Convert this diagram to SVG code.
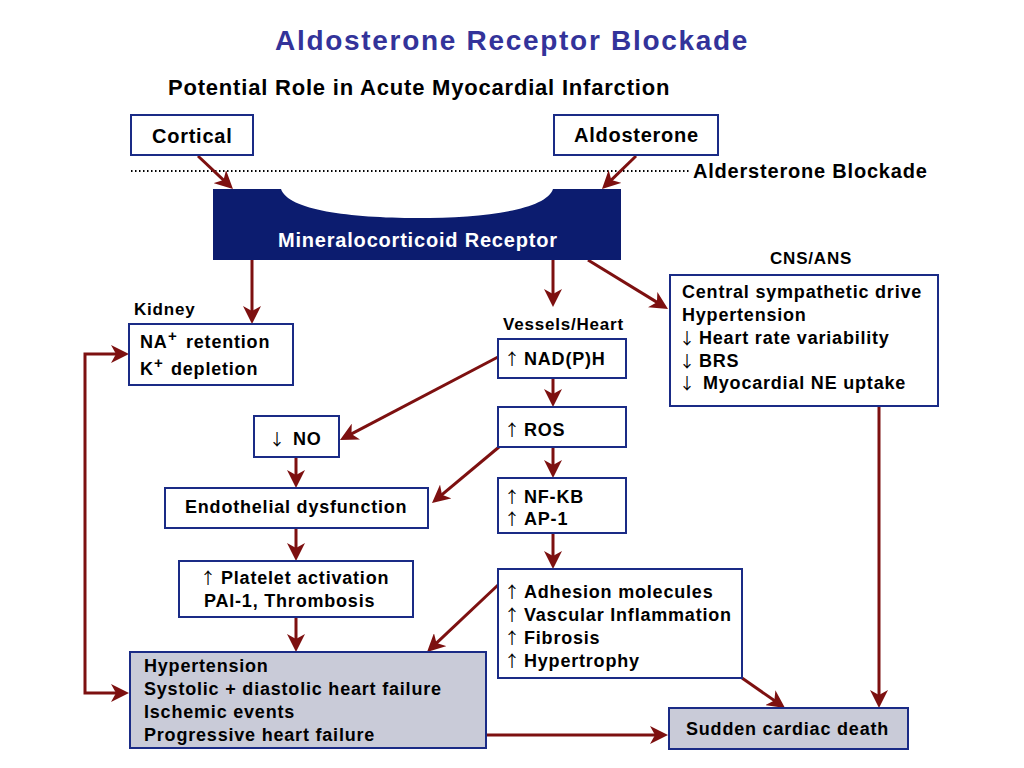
<svg xmlns="http://www.w3.org/2000/svg" width="1024" height="768" viewBox="0 0 1024 768">
<style>
.box{fill:#fff;stroke:#1a2b86;stroke-width:2}
.gbox{fill:#c9cbd8;stroke:#1a2b86;stroke-width:2}
text{font-family:"Liberation Sans",Arial,Helvetica,sans-serif;font-weight:bold;fill:#000}
.t{font-size:18px;letter-spacing:0.8px}
.lb{font-size:17px;letter-spacing:0.8px}
.big{font-size:20px;letter-spacing:0.75px}
.ar{font-family:"Noto Sans CJK SC","DejaVu Sans",sans-serif;font-weight:normal;letter-spacing:0;font-size:16px}
.sup{font-size:15px}
.conn{fill:none;stroke:#7d1010;stroke-width:3;marker-end:url(#ah)}
</style>
<defs>
<marker id="ah" viewBox="0 0 18 18" markerWidth="18" markerHeight="18" refX="12" refY="9" orient="auto-start-reverse" markerUnits="userSpaceOnUse">
<path d="M0,0 L18,9 L0,18 L5,9 Z" fill="#7d1010"/>
</marker>
</defs>
<rect width="1024" height="768" fill="#fff"/>
<text x="275" y="50" style="font-size:28px;letter-spacing:1.7px;fill:#33339a">Aldosterone Receptor Blockade</text>
<text x="168" y="95" style="font-size:22px;letter-spacing:0.8px">Potential Role in Acute Myocardial Infarction</text>
<line x1="131" y1="171" x2="690" y2="171" stroke="#000" stroke-width="2" stroke-dasharray="1.5 2.5"/>
<text x="693" y="178" style="font-size:20px;letter-spacing:0.8px">Aldersterone Blockade</text>
<g id="connectors">
<path class="conn" d="M198,156 L228.6,184.9"/>
<path class="conn" d="M636,156 L606.3,184.8"/>
<path class="conn" d="M252,260 V318"/>
<path class="conn" d="M553,260 V301"/>
<path class="conn" d="M588,260 L662.9,305.9"/>
<path class="conn" d="M498,357 L345.3,437.2"/>
<path class="conn" d="M553,378 V401"/>
<path class="conn" d="M499,447 L436.6,499.2"/>
<path class="conn" d="M553,447 V472"/>
<path class="conn" d="M296,457 V482"/>
<path class="conn" d="M296,528 V555"/>
<path class="conn" d="M296,617 V646"/>
<path class="conn" d="M553,533 V563"/>
<path class="conn" d="M498,585 L431.4,647.9"/>
<path class="conn" d="M742,678 L780.1,704.6"/>
<path class="conn" d="M879,406 V702"/>
<path class="conn" d="M486,735 H662"/>
<path class="conn" d="M123,693 H85 V354 H123" style="marker-start:url(#ah)"/>
</g>
<g id="cortical">
<rect class="box" x="131" y="115" width="122" height="40"/>
<text class="big" x="152" y="143">Cortical</text>
</g>
<g id="aldosterone">
<rect class="box" x="554" y="115" width="164" height="40"/>
<text class="big" x="574" y="142">Aldosterone</text>
</g>
<g id="mr">
<path d="M213,189 H281 C288,210 350,218 417,218 C484,218 546,210 553,189 H621 V260 H213 Z" fill="#0c1c6f"/>
<text x="278" y="247" style="font-size:20px;letter-spacing:0.8px;fill:#fff">Mineralocorticoid Receptor</text>
</g>
<g id="kidney">
<text class="lb" x="134" y="315">Kidney</text>
<rect class="box" x="129" y="324" width="164" height="61"/>
<text class="t" y="348"><tspan x="140">NA</tspan><tspan class="sup" x="168" dy="-7">+</tspan><tspan x="186" dy="7">retention</tspan></text>
<text class="t" y="375"><tspan x="140">K</tspan><tspan class="sup" x="154" dy="-7">+</tspan><tspan x="171" dy="7">depletion</tspan></text>
</g>
<g id="no">
<rect class="box" x="254" y="416" width="85" height="41"/>
<text class="t" y="445"><tspan class="ar" x="269">↓</tspan><tspan x="293">NO</tspan></text>
</g>
<g id="endothelial">
<rect class="box" x="165" y="488" width="263" height="40"/>
<text class="t" x="185" y="513">Endothelial dysfunction</text>
</g>
<g id="platelet">
<rect class="box" x="179" y="561" width="234" height="56"/>
<text class="t" y="584"><tspan class="ar" x="200">↑</tspan><tspan x="221">Platelet activation</tspan></text>
<text class="t" x="204" y="607">PAI-1, Thrombosis</text>
</g>
<g id="outcomes">
<rect class="gbox" x="130" y="652" width="356" height="96"/>
<text class="t" x="144" y="672">Hypertension</text>
<text class="t" x="144" y="695">Systolic + diastolic heart failure</text>
<text class="t" x="144" y="718">Ischemic events</text>
<text class="t" x="144" y="741">Progressive heart failure</text>
</g>
<g id="vessels">
<text class="lb" x="503" y="330">Vessels/Heart</text>
<rect class="box" x="498" y="339" width="128" height="39"/>
<text class="t" y="365"><tspan class="ar" x="504">↑</tspan><tspan x="524">NAD(P)H</tspan></text>
</g>
<g id="ros">
<rect class="box" x="498" y="407" width="128" height="40"/>
<text class="t" y="436"><tspan class="ar" x="504">↑</tspan><tspan x="524">ROS</tspan></text>
</g>
<g id="nfkb">
<rect class="box" x="498" y="478" width="128" height="55"/>
<text class="t" y="503"><tspan class="ar" x="504">↑</tspan><tspan x="524">NF-KB</tspan></text>
<text class="t" y="525"><tspan class="ar" x="504">↑</tspan><tspan x="524">AP-1</tspan></text>
</g>
<g id="adhesion">
<rect class="box" x="498" y="569" width="244" height="109"/>
<text class="t" y="598"><tspan class="ar" x="504">↑</tspan><tspan x="524">Adhesion molecules</tspan></text>
<text class="t" y="621"><tspan class="ar" x="504">↑</tspan><tspan x="524">Vascular Inflammation</tspan></text>
<text class="t" y="644"><tspan class="ar" x="504">↑</tspan><tspan x="524">Fibrosis</tspan></text>
<text class="t" y="667"><tspan class="ar" x="504">↑</tspan><tspan x="524">Hypertrophy</tspan></text>
</g>
<g id="cns">
<text class="lb" x="770" y="264">CNS/ANS</text>
<rect class="box" x="670" y="275" width="268" height="131"/>
<text class="t" x="682" y="298">Central sympathetic drive</text>
<text class="t" x="682" y="321">Hypertension</text>
<text class="t" y="344"><tspan class="ar" x="679">↓</tspan><tspan x="699">Heart rate variability</tspan></text>
<text class="t" y="367"><tspan class="ar" x="679">↓</tspan><tspan x="699">BRS</tspan></text>
<text class="t" y="389"><tspan class="ar" x="679">↓</tspan><tspan x="703">Myocardial NE uptake</tspan></text>
</g>
<g id="sudden">
<rect class="gbox" x="669" y="708" width="239" height="41"/>
<text class="t" x="686" y="735">Sudden cardiac death</text>
</g>
</svg>
